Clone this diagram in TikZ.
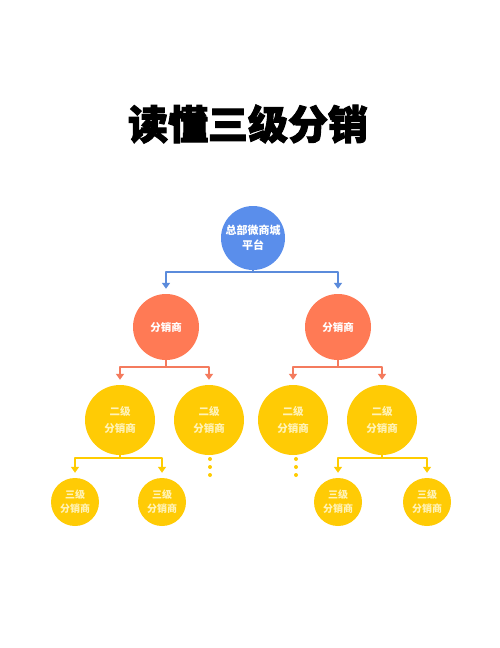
\documentclass[tikz,border=0pt]{standalone}
\usepackage{fontspec}
\newfontfamily\cjk{Noto Sans CJK SC}
\newfontfamily\cjktitle{Noto Sans CJK SC}[BoldFeatures={FakeBold=2.5}]
\usetikzlibrary{arrows.meta}
\definecolor{cblue}{HTML}{5A8EEB}
\definecolor{lblue}{HTML}{5B8BDB}
\definecolor{cred}{HTML}{FF7A55}
\definecolor{lred}{HTML}{F47B5E}
\definecolor{cyel}{HTML}{FFCB05}
\definecolor{lyel}{HTML}{FFCC00}
\definecolor{tyel}{HTML}{FFF3B8}
\begin{document}
\begin{tikzpicture}[x=1pt,y=-1pt,
  circ/.style={circle,inner sep=0pt,align=center,text=white,font=\cjk\bfseries\fontsize{10.5}{15}\selectfont},
  hq/.style={circ,fill=cblue,minimum size=64pt,font=\cjk\bfseries\fontsize{11}{15}\selectfont},
  lvone/.style={circ,fill=cred,minimum size=66pt},
  lvtwo/.style={circ,fill=cyel,minimum size=70pt,text=tyel,font=\cjk\bfseries\fontsize{10.5}{17}\selectfont},
  lvthree/.style={circ,fill=cyel,minimum size=48pt,text=tyel,font=\cjk\bfseries\fontsize{10}{14}\selectfont},
  conn/.style={line width=2.8pt,line join=round},
  arr/.style={conn,-{Triangle[width=8pt,length=6pt]},shorten >=5pt},
  dotc/.style={circle,fill=lyel,inner sep=0pt,minimum size=4pt}
]
\useasboundingbox (0,0) rectangle (500,648);
\fill[white] (0,0) rectangle (500,648);

\node[font=\cjktitle\bfseries\fontsize{40}{48}\selectfont] (title) at (248,124) {读懂三级分销};

\node[hq] (hq) at (253,238) {总部微商城\\平台};
\node[lvone] (a) at (166,327) {分销商};
\node[lvone] (b) at (338,327) {分销商};

\node[lvtwo] (a1) at (120,420) {二级\\分销商};
\node[lvtwo] (a2) at (209,420) {二级\\分销商};
\node[lvtwo] (b1) at (293,420) {二级\\分销商};
\node[lvtwo] (b2) at (382,420) {二级\\分销商};

\node[lvthree] (a11) at (75,502) {三级\\分销商};
\node[lvthree] (a12) at (162,502) {三级\\分销商};
\node[lvthree] (b21) at (338,502) {三级\\分销商};
\node[lvthree] (b22) at (427,502) {三级\\分销商};

% blue connectors
\coordinate (jhq) at (253,272);
\draw[conn,lblue] (hq.south) -- (jhq);
\draw[arr,lblue] (jhq) -| (a.north);
\draw[arr,lblue] (jhq) -| (b.north);

% red connectors
\coordinate (ja) at (166,367);
\coordinate (jb) at (338,367);
\draw[conn,lred] (a.south) -- (ja);
\draw[arr,lred] (ja) -| (a1.north);
\draw[arr,lred] (ja) -| (a2.north);
\draw[conn,lred] (b.south) -- (jb);
\draw[arr,lred] (jb) -| (b1.north);
\draw[arr,lred] (jb) -| (b2.north);

% yellow connectors
\coordinate (ja1) at (120,458);
\coordinate (jb2) at (382,458);
\draw[conn,lyel] (a1.south) -- (ja1);
\draw[arr,lyel] (ja1) -| (a11.north);
\draw[arr,lyel] (ja1) -| (a12.north);
\draw[conn,lyel] (b2.south) -- (jb2);
\draw[arr,lyel] (jb2) -| (b21.north);
\draw[arr,lyel] (jb2) -| (b22.north);

% continuation dots
\node[dotc] (d1) at (210,459) {};
\node[dotc] (d2) at (210,467) {};
\node[dotc] (d3) at (210,475) {};
\node[dotc] (e1) at (296,459) {};
\node[dotc] (e2) at (296,467) {};
\node[dotc] (e3) at (296,475) {};
\end{tikzpicture}
\end{document}
